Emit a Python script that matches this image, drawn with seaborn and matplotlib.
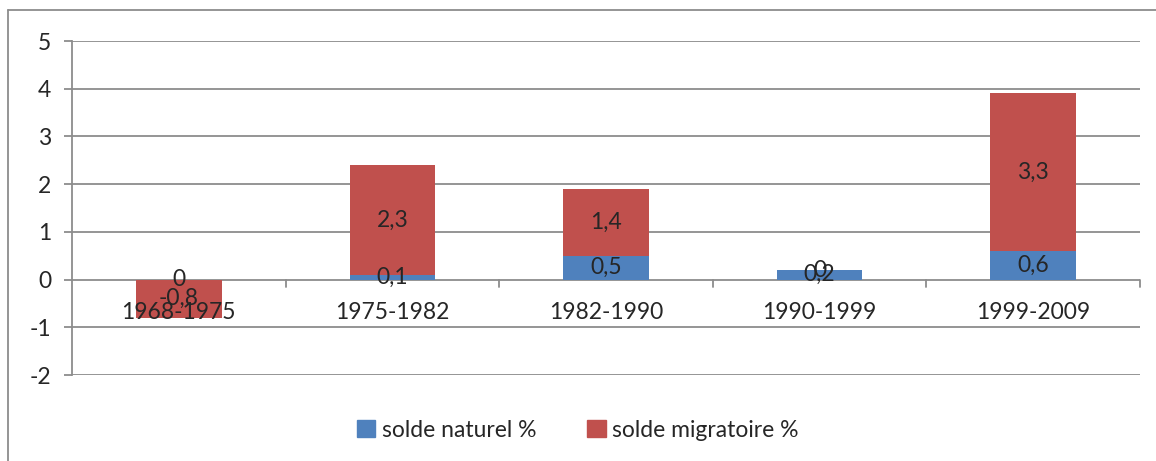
import matplotlib
matplotlib.use("Agg")
import matplotlib.pyplot as plt
import matplotlib.patches as mpatches
import matplotlib.lines as mlines
import pandas as pd
import seaborn as sns

# data
periods = ["1968-1975", "1975-1982", "1982-1990", "1990-1999", "1999-2009"]
solde_naturel = [0, 0.1, 0.5, 0.2, 0.6]
solde_migratoire = [-0.8, 2.3, 1.4, 0, 3.3]
y_ticks = [-2, -1, 0, 1, 2, 3, 4, 5]

BLUE = "#4F81BD"
RED = "#C0504D"
GRID = "#8C8C8C"
FS = 16.5

sns.set_style("white")
plt.rcParams["font.family"] = ["Lato", "DejaVu Sans"]

df = pd.DataFrame({
    "period": periods,
    "naturel": solde_naturel,
    "migratoire": solde_migratoire,
})
df["total"] = df["naturel"] + df["migratoire"]

fig = plt.figure(figsize=(11.56, 4.61), dpi=100)
ax = fig.add_axes([72 / 1156, 1 - 375 / 461, (1140 - 72) / 1156, (375 - 41) / 461])

# stacked bars: migratoire drawn as total, naturel on top of it from 0
sns.barplot(data=df, x="period", y="total", color=RED, width=0.4,
            saturation=1, linewidth=0, ax=ax, zorder=3)
sns.barplot(data=df, x="period", y="naturel", color=BLUE, width=0.4,
            saturation=1, linewidth=0, ax=ax, zorder=4)

ax.set_ylim(-2, 5)
ax.set_xlim(-0.5, len(periods) - 0.5)
ax.set_yticks(y_ticks)
ax.set_yticklabels([str(t) for t in y_ticks], fontsize=FS)
ax.set_xlabel("")
ax.set_ylabel("")
ax.set_xticks([])

for t in y_ticks:
    ax.axhline(t, color=GRID, lw=1.3, zorder=1)

for s in ["top", "right", "bottom"]:
    ax.spines[s].set_visible(False)
ax.spines["left"].set_color(GRID)
ax.spines["left"].set_linewidth(1.3)
ax.tick_params(axis="y", length=6, width=1.3, color=GRID, pad=9, left=True)

# category tick marks on the zero line
for b in range(1, len(periods) + 1):
    ax.plot([b - 0.5, b - 0.5], [0, -0.15], color=GRID, lw=1.3, zorder=2,
            clip_on=False)

# category labels sit just below the zero line
for i, p in enumerate(periods):
    ax.text(i, -0.68, p, ha="center", va="center", fontsize=FS, zorder=6)

# data labels, centred in each segment
for i in range(len(periods)):
    n = solde_naturel[i]
    m = solde_migratoire[i]
    ax.text(i, n / 2, f"{n:g}".replace(".", ","), ha="center", va="center",
            fontsize=FS, zorder=6)
    ax.text(i, n + m / 2, f"{m:g}".replace(".", ","), ha="center",
            va="center", fontsize=FS, zorder=6)

handles = [
    mpatches.Patch(color=BLUE, label="solde naturel %"),
    mpatches.Patch(color=RED, label="solde migratoire %"),
]
fig.legend(handles=handles, loc="center", bbox_to_anchor=(0.5, 1 - 430 / 461),
           ncol=2, frameon=False, fontsize=FS, handlelength=0.8,
           handleheight=0.8, handletextpad=0.3, columnspacing=2.2)

# outer chart border (right and bottom edges are cut off in the reference)
fig.add_artist(mlines.Line2D([8 / 1156, 8 / 1156], [0, 1 - 10 / 461],
                             color=GRID, lw=1.3))
fig.add_artist(mlines.Line2D([8 / 1156, 1], [1 - 10 / 461, 1 - 10 / 461],
                             color=GRID, lw=1.3))

fig.savefig("out.png", dpi=100)
